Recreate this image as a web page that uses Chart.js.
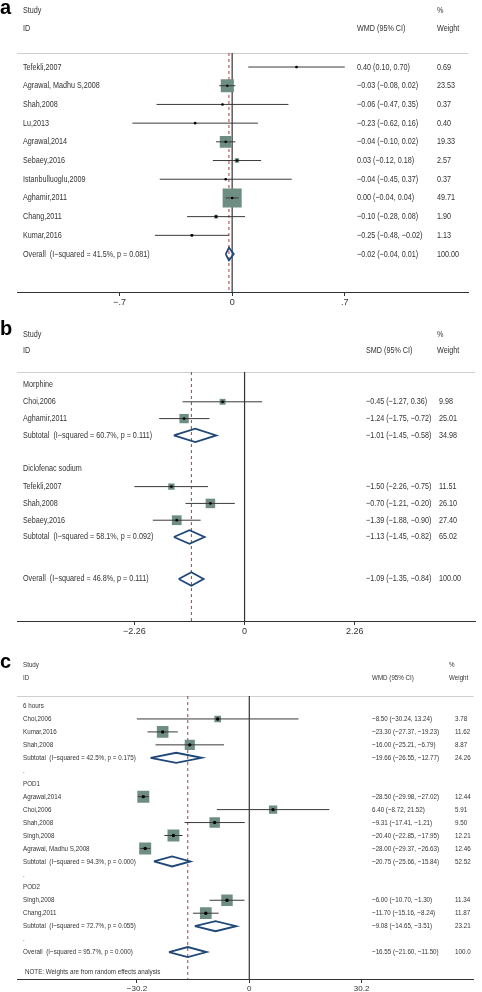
<!DOCTYPE html>
<html>
<head>
<meta charset="utf-8">
<script src="https://cdn.jsdelivr.net/npm/chart.js@4.4.1/dist/chart.umd.min.js"></script>
<style>
  html, body { margin: 0; padding: 0; background: #fff; }
  body { width: 482px; height: 992px; position: relative; overflow: hidden; }
  canvas { position: absolute; left: 0; }
</style>
</head>
<body>
<canvas id="chartA" width="482" height="310" style="top:0px"></canvas>
<canvas id="chartB" width="482" height="324" style="top:315px"></canvas>
<canvas id="chartC" width="482" height="347" style="top:645px"></canvas>
<script>
// ---- panel a : WMD ----
const aLabels = ['Tefekli,2007', 'Agrawal, Madhu S,2008', 'Shah,2008', 'Lu,2013', 'Agrawal,2014',
  'Sebaey,2016', 'Istanbulluoglu,2009', 'Aghamir,2011', 'Chang,2011', 'Kumar,2016',
  'Overall  (I\u2212squared = 41.5%, p = 0.081)'];
const aRows = [0, 1, 2, 3, 4, 5, 6, 7, 8, 9, 10];
const aEst = [0.40, -0.03, -0.06, -0.23, -0.04, 0.03, -0.04, 0.00, -0.10, -0.25, -0.02];
const aLo = [0.10, -0.08, -0.47, -0.62, -0.10, -0.12, -0.45, -0.04, -0.28, -0.48, -0.04];
const aHi = [0.70, 0.02, 0.35, 0.16, 0.02, 0.18, 0.37, 0.04, 0.08, -0.02, 0.01];
const aWeight = [0.69, 23.53, 0.37, 0.40, 19.33, 2.57, 0.37, 49.71, 1.90, 1.13, 100.00];
const aTickValues = [-0.7, 0, 0.7];
const aTickLabels = ['\u2212.7', '0', '.7'];

// ---- panel b : SMD ----
const bLabels = ['Morphine', 'Choi,2006', 'Aghamir,2011', 'Subtotal  (I\u2212squared = 60.7%, p = 0.111)',
  'Diclofenac sodium', 'Tefekli,2007', 'Shah,2008', 'Sebaey,2016',
  'Subtotal  (I\u2212squared = 58.1%, p = 0.092)', 'Overall  (I\u2212squared = 46.8%, p = 0.111)'];
const bRows = [0, 1, 2, 3, 5, 6.05, 7.05, 8.05, 9.05, 11.55];
const bEst = [null, -0.45, -1.24, -1.01, null, -1.50, -0.70, -1.39, -1.13, -1.09];
const bLo = [null, -1.27, -1.75, -1.45, null, -2.26, -1.21, -1.88, -1.45, -1.35];
const bHi = [null, 0.36, -0.72, -0.58, null, -0.75, -0.20, -0.90, -0.82, -0.84];
const bWeight = [null, 9.98, 25.01, 34.98, null, 11.51, 26.10, 27.40, 65.02, 100.00];
const bTickValues = [-2.26, 0, 2.26];
const bTickLabels = ['\u22122.26', '0', '2.26'];

// ---- panel c : WMD by time ----
const cLabels = ['6 hours', 'Choi,2006', 'Kumar,2016', 'Shah,2008', 'Subtotal  (I\u2212squared = 42.5%, p = 0.175)', '.',
  'POD1', 'Agrawal,2014', 'Choi,2006', 'Shah,2008', 'Singh,2008', 'Agrawal, Madhu S,2008',
  'Subtotal  (I\u2212squared = 94.3%, p = 0.000)', '.',
  'POD2', 'Singh,2008', 'Chang,2011', 'Subtotal  (I\u2212squared = 72.7%, p = 0.055)', '.',
  'Overall  (I\u2212squared = 95.7%, p = 0.000)'];
const cRows = [0, 1, 2, 3, 4, 5, 6, 7, 8, 9, 10, 11, 12, 13, 14, 15, 16, 17, 18, 19];
const cEst = [null, -8.50, -23.30, -16.00, -19.66, null, null, -28.50, 6.40, -9.31, -20.40, -28.00, -20.75, null,
  null, -6.00, -11.70, -9.08, null, -16.55];
const cLo = [null, -30.24, -27.37, -25.21, -26.55, null, null, -29.98, -8.72, -17.41, -22.85, -29.37, -25.66, null,
  null, -10.70, -15.16, -14.65, null, -21.60];
const cHi = [null, 13.24, -19.23, -6.79, -12.77, null, null, -27.02, 21.52, -1.21, -17.95, -26.63, -15.84, null,
  null, -1.30, -8.24, -3.51, null, -11.50];
const cWeight = [null, 3.78, 11.62, 8.87, 24.26, null, null, 12.44, 5.91, 9.50, 12.21, 12.46, 52.52, null,
  null, 11.34, 11.87, 23.21, null, 100.0];
const cTickValues = [-30.2, 0, 30.2];
const cTickLabels = ['\u221230.2', '0', '30.2'];

const FONT = '"Liberation Sans", Arial, sans-serif';
const TEXT = '#333';
const NARROW = 0.8; // the original uses a condensed face
Chart.defaults.font.family = FONT;

function fmt(v) { return v.toFixed(2).replace('-', '\u2212'); }

function narrowText(ctx, s, x, y) {
  ctx.save();
  ctx.translate(x, y);
  ctx.scale(NARROW, 1);
  ctx.fillText(s, 0, 0);
  ctx.restore();
}

// draws the text columns, header and panel letter
function textPlugin(p) {
  return {
    id: 'forestText',
    beforeDatasetsDraw(chart) {
      const { ctx, chartArea: ca } = chart;
      ctx.save();
      ctx.strokeStyle = '#cfcfcf';
      ctx.lineWidth = 1;
      ctx.beginPath();
      ctx.moveTo(ca.left, ca.top + 0.5);
      ctx.lineTo(ca.right, ca.top + 0.5);
      ctx.stroke();
      ctx.restore();
    },
    afterDraw(chart) {
      const { ctx, chartArea: ca, scales: { y } } = chart;
      ctx.save();
      ctx.fillStyle = '#000';
      ctx.textBaseline = 'alphabetic';
      ctx.font = 'bold 20px "Liberation Sans", Arial, sans-serif';
      ctx.fillText(p.letter, 0, p.letterY);

      ctx.fillStyle = TEXT;
      ctx.textBaseline = 'middle';
      ctx.font = p.fontSize + 'px ' + FONT;
      const h1 = ca.top + p.headY[0], h2 = ca.top + p.headY[1];
      narrowText(ctx, 'Study', 23, h1);
      narrowText(ctx, 'ID', 23, h2);
      narrowText(ctx, '%', p.weightHeadX, h1);
      narrowText(ctx, p.esHead, p.esX, h2);
      narrowText(ctx, 'Weight', p.weightHeadX, h2);

      p.labels.forEach((lab, i) => {
        const py = y.getPixelForValue(p.rows[i]);
        narrowText(ctx, lab, 23, py);
        if (p.est[i] == null) return;
        narrowText(ctx, fmt(p.est[i]) + ' (' + fmt(p.lo[i]) + ', ' + fmt(p.hi[i]) + ')', p.esX, py);
        let w = p.weight[i].toFixed(2);
        if (i === p.labels.length - 1 && p.lastWeightText) w = p.lastWeightText;
        narrowText(ctx, w, p.weightX, py);
      });
      if (p.note) narrowText(ctx, p.note, 25, y.getPixelForValue(p.noteRow));
      ctx.restore();
    }
  };
}

function forestPanel(id, p) {
  const pooled = i => /^(Subtotal|Overall)/.test(p.labels[i]);
  const boxes = [], radii = [], ci = [], diamonds = [];
  p.rows.forEach((r, i) => {
    if (p.est[i] == null) return;
    if (pooled(i)) {
      const d = p.diamondH;
      diamonds.push({ x: p.lo[i], y: r }, { x: p.est[i], y: r - d }, { x: p.hi[i], y: r },
        { x: p.est[i], y: r + d }, { x: p.lo[i], y: r }, { x: null, y: null });
    } else {
      boxes.push({ x: p.est[i], y: r });
      radii.push(p.boxScale * Math.sqrt(p.weight[i]) / Math.SQRT2);
      ci.push({ x: p.lo[i], y: r }, { x: p.hi[i], y: r }, { x: null, y: null });
    }
  });
  const last = p.labels.length - 1;
  const overall = p.est[last];

  new Chart(document.getElementById(id), {
    type: 'scatter',
    data: {
      datasets: [
        { data: boxes, pointStyle: 'circle', pointRadius: p.dotR, backgroundColor: '#000', borderWidth: 0 },
        { data: ci, showLine: true, pointRadius: 0, borderColor: '#3a3a3a', borderWidth: 1 },
        { data: diamonds, showLine: true, pointRadius: 0, borderColor: '#1f4778', borderWidth: 1.8,
          borderJoinStyle: 'miter' },
        { data: boxes, pointStyle: 'rect', pointRadius: radii, backgroundColor: '#6e8d83', borderWidth: 0 },
        { data: [{ x: overall, y: p.yMin }, { x: overall, y: p.yMax }], showLine: true, pointRadius: 0,
          borderColor: '#b23b3b', borderWidth: 1, borderDash: [3, 3] },
        { data: [{ x: 0, y: p.yMin }, { x: 0, y: p.yMax }], showLine: true, pointRadius: 0,
          borderColor: '#333', borderWidth: 1.2 }
      ]
    },
    options: {
      responsive: false,
      animation: false,
      layout: { padding: { left: 17, right: p.padRight, top: p.padTop, bottom: 0 } },
      plugins: { legend: { display: false }, tooltip: { enabled: false } },
      scales: {
        x: {
          type: 'linear', min: p.xMin, max: p.xMax,
          afterBuildTicks: s => { s.ticks = p.tickValues.map(v => ({ value: v })); },
          afterFit: s => { s.height = p.axisH; },
          ticks: { callback: (v, i) => p.tickLabels[i], color: TEXT, font: { size: p.tickSize },
            padding: 1, maxRotation: 0, autoSkip: false },
          grid: { drawOnChartArea: false, drawTicks: true, tickLength: 4, color: '#333' },
          border: { display: true, color: '#333', width: 1 }
        },
        y: { type: 'linear', display: false, reverse: true, min: p.yMin, max: p.yMax }
      }
    },
    plugins: [textPlugin(p)]
  });
}

forestPanel('chartA', {
  letter: 'a', letterY: 14, labels: aLabels, rows: aRows, est: aEst, lo: aLo, hi: aHi, weight: aWeight,
  tickValues: aTickValues, tickLabels: aTickLabels, esHead: 'WMD (95% CI)',
  xMin: -1.337, xMax: 1.469, yMin: -0.75, yMax: 12.03, padTop: 53, padRight: 4, axisH: 18,
  headY: [-42, -24], esX: 357, weightX: 437, weightHeadX: 437, fontSize: 9, tickSize: 9,
  boxScale: 2.7, dotR: 1.3, diamondH: 0.34
});

forestPanel('chartB', {
  letter: 'b', letterY: 20, labels: bLabels, rows: bRows, est: bEst, lo: bLo, hi: bHi, weight: bWeight,
  tickValues: bTickValues, tickLabels: bTickLabels, esHead: 'SMD (95% CI)',
  xMin: -4.664, xMax: 4.725, yMin: -0.774, yMax: 14.05, padTop: 57, padRight: 4, axisH: 18,
  headY: [-37, -21], esX: 366, weightX: 439, weightHeadX: 437, fontSize: 9, tickSize: 9,
  boxScale: 1.86, dotR: 1.4, diamondH: 0.4
});

forestPanel('chartC', {
  letter: 'c', letterY: 23, labels: cLabels, rows: cRows, est: cEst, lo: cLo, hi: cHi, weight: cWeight,
  tickValues: cTickValues, tickLabels: cTickLabels, esHead: 'WMD (95% CI)', lastWeightText: '100.0',
  note: 'NOTE: Weights are from random effects analysis', noteRow: 20.55,
  xMin: -62.47, xMax: 60.3, yMin: -0.772, yMax: 21.08, padTop: 51, padRight: 2, axisH: 13,
  headY: [-31, -18], esX: 372, weightX: 455, weightHeadX: 449, fontSize: 7.8, tickSize: 8,
  boxScale: 3.4, dotR: 1.7, diamondH: 0.39
});
</script>
</body>
</html>
